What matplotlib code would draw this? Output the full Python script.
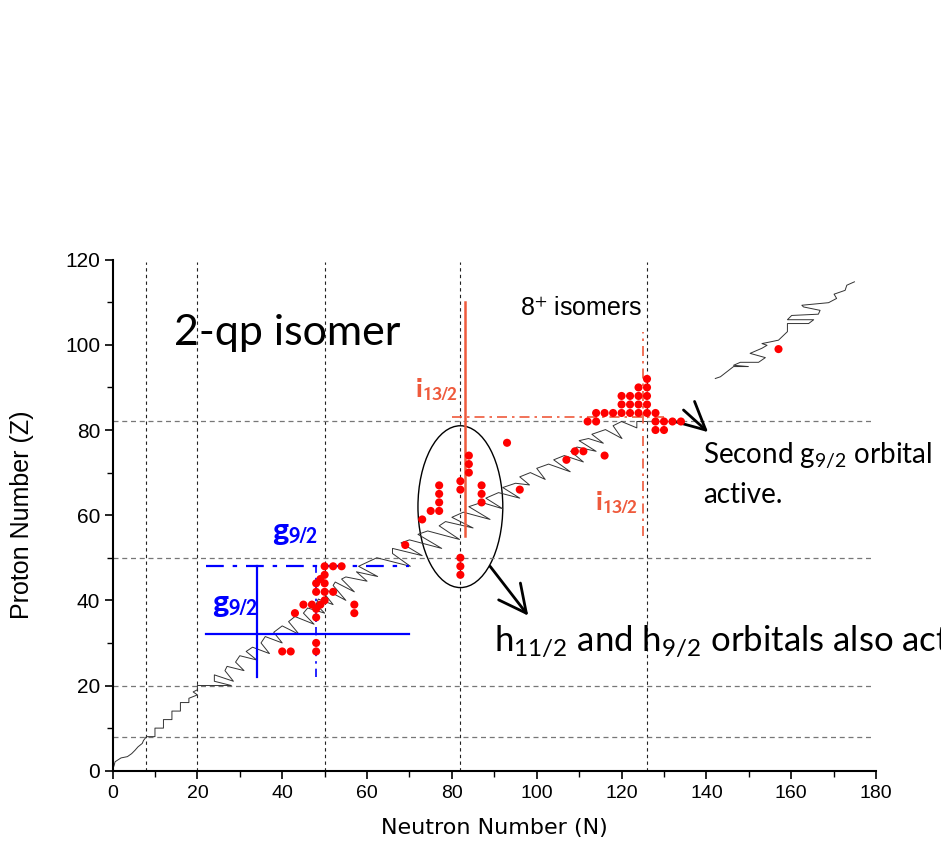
import matplotlib
matplotlib.use("Agg")
import matplotlib.pyplot as plt
from matplotlib.patches import Ellipse

# --- данные: изомеры 8+ (N, Z) ---
iso_n = [40, 42, 48, 48, 43, 45, 47, 49, 48, 48, 50, 48, 50, 52, 48, 50, 49, 50,
         50, 52, 54, 57, 57, 69, 73, 75, 77, 77, 77, 77, 82, 82, 82, 82, 82,
         84, 84, 84, 87, 87, 87, 93, 96, 107, 109, 111, 116, 112, 114,
         114, 116, 118, 120, 122, 124, 126, 128,
         120, 122, 124, 126, 120, 122, 124, 126, 124, 126, 126,
         128, 130, 132, 134, 128, 130, 157]
iso_z = [28, 28, 28, 30, 37, 39, 39, 39, 38, 36, 40, 42, 42, 42, 44, 44, 45, 46,
         48, 48, 48, 39, 37, 53, 59, 61, 61, 63, 65, 67, 46, 48, 50, 66, 68,
         70, 72, 74, 63, 65, 67, 77, 66, 73, 75, 75, 74, 82, 82,
         84, 84, 84, 84, 84, 84, 84, 84,
         86, 86, 86, 86, 88, 88, 88, 88, 90, 90, 92,
         82, 82, 82, 82, 80, 80, 99]

# граница известных ядер (ломаная), нижний кусок
edge_n = [0, 0.3, 0.6, 2, 3.5, 4.5, 5.3, 6, 7, 7.3, 8, 10, 10, 12, 12, 14, 14, 16, 16,
          18, 18, 20, 19, 20, 20, 28,
          24, 24, 28.5, 26.5, 27, 31, 29, 30, 34, 31.5, 33, 37, 35, 36, 40, 38,
          40, 44, 41.5, 43, 47.5, 45, 46, 50, 48, 48.5, 52, 50, 50.5, 55, 52,
          52.5, 57, 54, 55, 60, 57.5, 62.5, 58, 62.3, 70.2, 66, 66, 73, 68,
          70, 77.6, 72, 74.3, 81.8, 77, 78.5, 85, 80, 82.7, 89, 84, 87, 92,
          88, 91, 96, 92, 95, 98.3, 96, 98.5, 102, 100, 102.8, 107.9, 104,
          106.5, 111, 108, 109.5, 114, 110, 112.2, 115.7, 113, 116.2, 120.1,
          118, 120, 123.6, 123.6, 126]
edge_z = [1, 1, 2.1, 3, 3.3, 4, 4.8, 5.6, 6.4, 7.1, 8, 8, 10, 10, 12, 12, 14, 14, 16,
          16, 17, 17.8, 18.5, 19, 20, 20,
          21, 22.5, 21, 23.5, 24.5, 23.5, 25.5, 27, 26, 28, 29, 27.5, 30, 31.5,
          30, 32.5, 34, 32, 35, 36.2, 34.4, 37, 38.2, 37, 39, 40.3, 39, 41.5,
          42.4, 40, 43.5, 44.3, 42, 45, 45.5, 44.5, 46.7, 45.6, 48, 50, 48,
          51, 52.2, 50.5, 53.5, 54.2, 52.2, 55.5, 56.3, 54.3, 57.5, 58.5, 57,
          59.5, 60.7, 59, 62, 63, 61.5, 64, 65.3, 64, 66.5, 67.5, 67.1, 69,
          70, 68.4, 71, 72, 70.2, 73, 74, 72.5, 75, 76, 75, 77.5, 78, 76.9,
          79, 80.1, 78, 81, 82, 80.5, 82, 82]

# верхний кусок
edge2_n = [142.1, 143.3, 146.4, 149.9, 146.4, 148.0, 152.3, 153.9, 150.3, 153.1,
           154.3, 153.1, 155.1, 157.0, 159.1, 159.1, 164.1, 165.3, 159.1, 160.1,
           166.4, 166.8, 162.9, 162.5, 168.8, 170.7, 170.1, 172.7, 173.1, 174.9]
edge2_z = [92.1, 92.5, 94.9, 94.9, 95.2, 95.9, 95.9, 97.0, 98.0, 99.2,
           99.9, 100.3, 100.7, 101.1, 103.1, 105.0, 105.0, 105.9, 105.9, 106.9,
           107.2, 108.1, 108.9, 109.3, 109.9, 110.9, 111.9, 112.8, 114.0, 114.8]

magic_n = [8, 20, 50, 82, 126]
magic_z = [8, 20, 50, 82]

x_ticks = [0, 20, 40, 60, 80, 100, 120, 140, 160, 180]
y_ticks = [0, 20, 40, 60, 80, 100, 120]

BLUE = "#0000FF"
ORANGE = "#EF5A3C"

plt.rcParams["font.family"] = ["Liberation Sans", "DejaVu Sans"]
plt.rcParams["mathtext.fontset"] = "custom"
plt.rcParams["mathtext.rm"] = "Lato"
plt.rcParams["mathtext.it"] = "Lato:italic"
plt.rcParams["mathtext.bf"] = "Lato:bold"

fig = plt.figure(figsize=(9.41, 8.5), dpi=100)
ax = fig.add_axes([0.1196, 0.0933, 0.8114, 0.6012])
ax.set_xlim(0, 180)
ax.set_ylim(0, 120)

# магические числа
for m in magic_n:
    ax.vlines(m, 0, 119.5, colors="#222222", linestyles=(0, (3, 3)), lw=0.8)
for m in magic_z:
    ax.hlines(m, 0, 179.5, colors="#777777", linestyles=(0, (4, 3)), lw=0.9)

ax.plot(edge_n, edge_z, color="#333333", lw=0.7)
ax.plot(edge2_n, edge2_z, color="#333333", lw=0.7)

ax.scatter(iso_n, iso_z, s=34, color="#FF0000", edgecolors="none", zorder=5)

# орбитали g9/2
ax.plot([34, 34], [22, 48], color=BLUE, lw=1.6)
ax.plot([22, 70], [32, 32], color=BLUE, lw=1.6)
ax.plot([22, 70], [48, 48], color=BLUE, lw=1.6, linestyle=(0, (8, 4, 2, 4)))
ax.plot([48, 48], [22, 48], color=BLUE, lw=1.2, linestyle=(0, (5, 3, 1.5, 3)))

# орбитали i13/2
ax.plot([83, 83], [55, 110], color=ORANGE, lw=1.8)
ax.plot([80, 130], [83, 83], color=ORANGE, lw=1.2, linestyle=(0, (6, 3, 1.5, 3)))
ax.plot([125, 125], [55, 103], color=ORANGE, lw=1.2, linestyle=(0, (6, 3, 1.5, 3)))

ax.add_patch(Ellipse((82, 62), 20, 38, fill=False, edgecolor="black", lw=1))

bold_sub = dict(fontsize=23, fontweight="bold", math_fontfamily="stixsans")
ax.text(37.6, 54.4, r"$\mathbf{g}_{\mathbf{9/2}}$", color=BLUE, **bold_sub)
ax.text(23.5, 37.5, r"$\mathbf{g}_{\mathbf{9/2}}$", color=BLUE, **bold_sub)
ax.text(71.4, 88.0, r"$\mathbf{i}_{\mathbf{13/2}}$", color=ORANGE, fontsize=20,
        fontweight="bold", math_fontfamily="stixsans")
ax.text(113.8, 61.4, r"$\mathbf{i}_{\mathbf{13/2}}$", color=ORANGE, fontsize=20,
        fontweight="bold", math_fontfamily="stixsans")

ax.text(14.4, 100, "2-qp isomer", family="Lato", fontsize=31)
ax.text(96.1, 106.7, r"8$^{+}$ isomers", fontsize=18, math_fontfamily="stixsans")
ax.text(139.2, 72.2, r"Second g$_{9/2}$ orbital", family="Lato", fontsize=20)
ax.text(139.2, 62.8, "active.", family="Lato", fontsize=20)
ax.text(90, 28.3, r"h$_{11/2}$ and h$_{9/2}$ orbitals also active", family="Lato",
        fontsize=25)

arrow = dict(arrowstyle="->,head_length=0.9,head_width=0.45", lw=2, color="black",
             mutation_scale=22, shrinkA=0, shrinkB=0)
ax.annotate("", xy=(140.4, 79.5), xytext=(134.6, 84.7), arrowprops=arrow)
ax.annotate("", xy=(98, 36.4), xytext=(89, 48), arrowprops=arrow)

# оси
for side in ["top", "right"]:
    ax.spines[side].set_visible(False)
ax.spines["left"].set_linewidth(1.5)
ax.spines["bottom"].set_linewidth(1.5)
ax.set_xticks(x_ticks)
ax.set_yticks(y_ticks)
ax.set_xticks(range(10, 180, 20), minor=True)
ax.set_yticks(range(10, 120, 20), minor=True)
ax.tick_params(which="major", direction="out", length=6, width=1.2)
ax.tick_params(which="minor", direction="out", length=4, width=1.0)
ax.tick_params(axis="x", labelsize=14, pad=4)
ax.tick_params(axis="y", labelsize=15, pad=3)

ax.set_xlabel("Neutron Number (N)", fontsize=16, labelpad=12, family="DejaVu Sans")
ax.set_ylabel("Proton Number (Z)", fontsize=18, labelpad=22)

fig.savefig("out.png", dpi=100, facecolor="white")
